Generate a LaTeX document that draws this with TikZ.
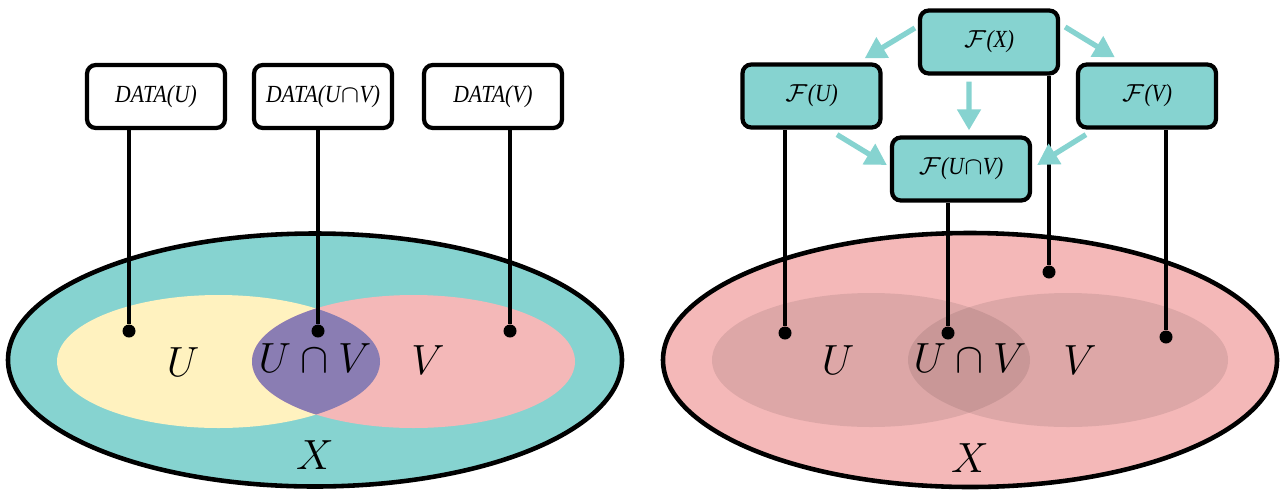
\documentclass[tikz,border=0pt]{standalone}
\usepackage{fontspec}
\newfontfamily\boxfont{Liberation Serif}[FakeStretch=0.88]
\usetikzlibrary{arrows.meta}
\definecolor{sheafteal}{HTML}{86D3D0}
\definecolor{cream}{HTML}{FFF2BF}
\definecolor{rose}{HTML}{F4B8B8}
\definecolor{lilac}{HTML}{8A7DB3}
\tikzset{
  databox/.style={draw,line width=1.2pt,rounded corners=2.5pt,fill=white,minimum width=1.38cm,minimum height=0.63cm,inner sep=1pt,font=\fontsize{7}{8}\selectfont\boxfont\itshape},
  sheafbox/.style={databox,fill=sheafteal},
  restrict/.style={-{Triangle[length=6pt,width=6.5pt]},line width=1.5pt,sheafteal},
  pin/.style={circle,fill=black,inner sep=0pt,minimum size=0.13cm},
  wire/.style={line width=1.2pt},
  setlabel/.style={font=\fontsize{12}{14}\selectfont}
}
\begin{document}
\begin{tikzpicture}
\useasboundingbox (0,0) rectangle (12.85,4.90);
\filldraw[fill=sheafteal,line width=1.3pt] (3.15,1.30) ellipse (3.07 and 1.265);
\fill[cream] (2.185,1.285) ellipse (1.615 and 0.665);
\fill[rose] (4.135,1.285) ellipse (1.615 and 0.665);
\begin{scope}
\clip (2.185,1.285) ellipse (1.615 and 0.665);
\fill[lilac] (4.135,1.285) ellipse (1.615 and 0.665);
\end{scope}
\node[setlabel] (lu) at (1.83,1.28) {$U$};
\node[setlabel] (li) at (3.15,1.32) {$U\cap V$};
\node[setlabel] (lv) at (4.28,1.30) {$V$};
\node[setlabel] (lx) at (3.15,0.35) {$X$};
\node[databox] (du) at (1.56,3.935) {DATA(U)};
\node[databox] (di) at (3.23,3.935) {DATA(U$\cap$V)};
\node[databox] (dv) at (4.93,3.935) {DATA(V)};
\node[pin] (pu) at (1.29,1.59) {};
\node[pin] (pi) at (3.18,1.59) {};
\node[pin] (pv) at (5.10,1.59) {};
\draw[wire] (pu) -- (pu |- du.south);
\draw[wire] (pi) -- (pi |- di.south);
\draw[wire] (pv) -- (pv |- dv.south);

\filldraw[fill=rose,line width=1.3pt] (9.70,1.30) ellipse (3.07 and 1.27);
\fill[black,opacity=0.09] (8.71,1.30) ellipse (1.59 and 0.67);
\fill[black,opacity=0.09] (10.68,1.30) ellipse (1.60 and 0.67);
\node[setlabel] (ru) at (8.38,1.30) {$U$};
\node[setlabel] (ri) at (9.70,1.32) {$U\cap V$};
\node[setlabel] (rv) at (10.80,1.30) {$V$};
\node[setlabel] (rx) at (9.70,0.32) {$X$};
\node[sheafbox] (fx) at (9.89,4.48) {$\mathcal{F}$(X)};
\node[sheafbox] (fu) at (8.115,3.94) {$\mathcal{F}$(U)};
\node[sheafbox] (fv) at (11.47,3.94) {$\mathcal{F}$(V)};
\node[sheafbox] (fi) at (9.61,3.21) {$\mathcal{F}$(U$\cap$V)};
\node[pin] (qu) at (7.85,1.57) {};
\node[pin] (qi) at (9.48,1.57) {};
\node[pin] (qx) at (10.49,2.18) {};
\node[pin] (qv) at (11.66,1.53) {};
\draw[wire] (qu) -- (qu |- fu.south);
\draw[wire] (qi) -- (qi |- fi.south);
\draw[wire] (qx) -- (qx |- fx.south);
\draw[wire] (qv) -- (qv |- fv.south);
\draw[restrict] ([shift={(-0.03,0.14)}]fx.west) -- ([shift={(-0.18,0.04)}]fu.north east);
\draw[restrict] ([shift={(0.05,0.15)}]fx.east) -- ([shift={(0.39,0.05)}]fv.north west);
\draw[restrict] ([shift={(-0.20,-0.06)}]fx.south) -- ([shift={(0.08,0.05)}]fi.north);
\draw[restrict] ([shift={(0.255,-0.05)}]fu.south) -- ([shift={(-0.03,0.04)}]fi.west);
\draw[restrict] ([shift={(0.10,-0.05)}]fv.south west) -- ([shift={(0.05,0.04)}]fi.east);
\end{tikzpicture}
\end{document}
